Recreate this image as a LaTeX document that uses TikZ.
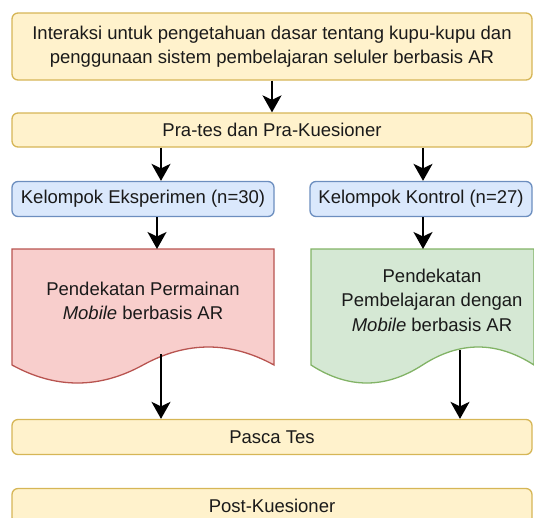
\documentclass[tikz,border=0pt]{standalone}
\usepackage{fontspec}
\setmainfont{Liberation Sans}
\usetikzlibrary{arrows.meta}
\definecolor{yfill}{HTML}{FFF2CC}
\definecolor{ydraw}{HTML}{D6B656}
\definecolor{bfill}{HTML}{DAE8FC}
\definecolor{bdraw}{HTML}{6C8EBF}
\definecolor{rfill}{HTML}{F8CECC}
\definecolor{rdraw}{HTML}{B85450}
\definecolor{gfill}{HTML}{D5E8D4}
\definecolor{gdraw}{HTML}{82B366}
\definecolor{txt}{HTML}{1A1A1A}
\begin{document}
\begin{tikzpicture}[x=1pt,y=-1pt,
  font=\fontsize{18.5}{24.5}\selectfont, text=txt,
  ybox/.style={draw=ydraw, fill=yfill, line width=1.3pt, rounded corners=6pt, minimum width=520pt, inner sep=0pt, align=center},
  bbox/.style={draw=bdraw, fill=bfill, line width=1.3pt, rounded corners=6pt, minimum height=35pt, inner sep=0pt, align=center},
  rdoc/.style={draw=rdraw, fill=rfill, line width=1.3pt},
  gdoc/.style={draw=gdraw, fill=gfill, line width=1.3pt},
  doctext/.style={align=center, inner sep=0pt},
  arr/.style={draw=black, line width=1.9pt, -{Stealth[length=17pt, width=19pt, inset=4.5pt]}}]
\useasboundingbox (0,0) rectangle (534,517);
% top
\node[ybox, minimum height=67pt] (intro) at (272,46.5) {Interaksi untuk pengetahuan dasar tentang kupu-kupu dan\\penggunaan sistem pembelajaran seluler berbasis AR};
\node[ybox, minimum height=34pt] (pre) at (272,130) {Pra-tes dan Pra-Kuesioner};
\node[bbox, minimum width=262pt] (ke) at (143,199) {Kelompok Eksperimen (n=30)};
\node[bbox, minimum width=222pt] (kk) at (421,199) {Kelompok Kontrol (n=27)};
% documents
\draw[rdoc] (12,249) -- (274,249) -- (274,365)
  .. controls (230.3,341) and (186.7,341) .. (143,365)
  .. controls (99.3,389) and (55.7,389) .. (12,365) -- cycle;
\draw[gdoc] (311,249) -- (534,249) -- (534,365)
  .. controls (496.8,341) and (459.7,341) .. (422.5,365)
  .. controls (385.3,389) and (348.2,389) .. (311,365) -- cycle;
\node[doctext] (red) at (143,301) {Pendekatan Permainan\\\textit{Mobile} berbasis AR};
\node[doctext] (green) at (432,300) {Pendekatan\\Pembelajaran dengan\\\textit{Mobile} berbasis AR};
\coordinate (redtop) at (157,249);
\coordinate (greentop) at (423,249);
\coordinate (redbot) at (161,354);
\coordinate (greenbot) at (460,350);
\node[ybox, minimum height=35pt] (post) at (272,437) {Pasca Tes};
\node[ybox, minimum height=35pt] (postq) at (272,506) {Post-Kuesioner};
% arrows
\draw[arr] (intro.south) -- (pre.north);
\draw[arr] (161,0 |- pre.south) -- (161,0 |- ke.north);
\draw[arr] (423,0 |- pre.south) -- (423,0 |- kk.north);
\draw[arr] (redtop |- ke.south) -- (redtop);
\draw[arr] (greentop |- kk.south) -- (greentop);
\draw[arr] (redbot) -- (redbot |- post.north);
\draw[arr] (greenbot) -- (greenbot |- post.north);
\end{tikzpicture}
\end{document}
